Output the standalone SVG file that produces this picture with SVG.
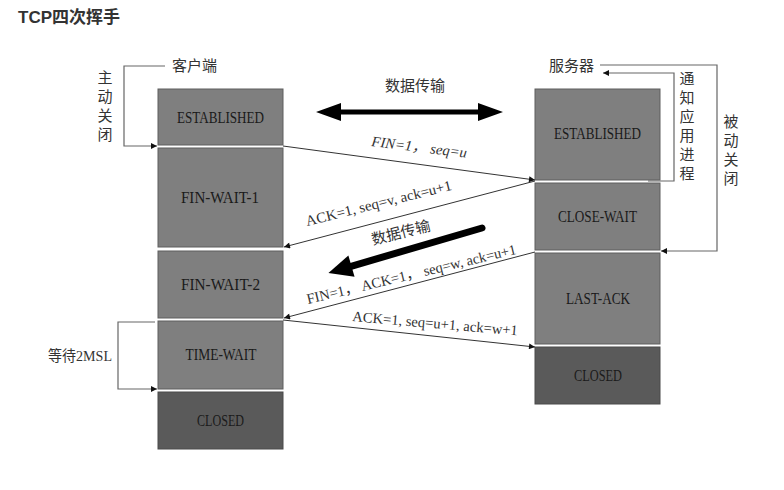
<svg xmlns="http://www.w3.org/2000/svg" width="784" height="490" viewBox="0 0 784 490">
<defs>
<style>
.box{fill:#7f7f7f;stroke:#5e5e5e;stroke-width:1}
.dark{fill:#5a5a5a;stroke:#4a4a4a;stroke-width:1}
.bl{font-family:"Liberation Serif",serif;font-size:16px;fill:#1a1a1a;text-anchor:middle}
.cjk{font-family:"Noto Sans CJK SC",sans-serif;font-size:15px;fill:#333}
.msg{font-family:"Liberation Serif","Noto Sans CJK SC",serif;font-size:14.5px;fill:#333}
.ln{fill:none;stroke:#333;stroke-width:1}
.br{fill:none;stroke:#666;stroke-width:1.2}
</style>
<marker id="ah" viewBox="0 0 10 10" refX="10" refY="5" markerWidth="7" markerHeight="6" markerUnits="userSpaceOnUse" orient="auto">
<path d="M0,0 L10,5 L0,10 z" fill="#111"/>
</marker>
</defs>
<rect width="784" height="490" fill="#fff"/>
<text x="18" y="23" font-family="Liberation Sans,'Noto Sans CJK SC',sans-serif" font-size="17" font-weight="bold" fill="#333">TCP四次挥手</text>

<g id="client-established"><rect class="box" x="158" y="89" width="125" height="56"/><text class="bl" x="220.5" y="123" textLength="87" lengthAdjust="spacingAndGlyphs">ESTABLISHED</text></g>
<g id="fin-wait-1"><rect class="box" x="158" y="148" width="125" height="99"/><text class="bl" x="220" y="203" textLength="78" lengthAdjust="spacingAndGlyphs">FIN-WAIT-1</text></g>
<g id="fin-wait-2"><rect class="box" x="158" y="251" width="125" height="67"/><text class="bl" x="220.5" y="290" textLength="79" lengthAdjust="spacingAndGlyphs">FIN-WAIT-2</text></g>
<g id="time-wait"><rect class="box" x="158" y="321" width="125" height="68"/><text class="bl" x="221" y="360" textLength="71" lengthAdjust="spacingAndGlyphs">TIME-WAIT</text></g>
<g id="client-closed"><rect class="dark" x="158" y="392" width="125" height="57"/><text class="bl" x="220.5" y="426" textLength="47" lengthAdjust="spacingAndGlyphs">CLOSED</text></g>

<g id="server-established"><rect class="box" x="535" y="89" width="125" height="91"/><text class="bl" x="597.5" y="139" textLength="87" lengthAdjust="spacingAndGlyphs">ESTABLISHED</text></g>
<g id="close-wait"><rect class="box" x="535" y="183" width="125" height="67"/><text class="bl" x="597.5" y="222" textLength="79" lengthAdjust="spacingAndGlyphs">CLOSE-WAIT</text></g>
<g id="last-ack"><rect class="box" x="535" y="253" width="125" height="91"/><text class="bl" x="598" y="304" textLength="64" lengthAdjust="spacingAndGlyphs">LAST-ACK</text></g>
<g id="server-closed"><rect class="dark" x="535" y="347" width="125" height="57"/><text class="bl" x="598" y="381" textLength="48" lengthAdjust="spacingAndGlyphs">CLOSED</text></g>

<g id="labels">
<text class="cjk" x="172" y="71">客户端</text>
<text class="cjk" x="549" y="71">服务器</text>
<text class="cjk" text-anchor="middle"><tspan x="105" y="83">主</tspan><tspan x="105" dy="19">动</tspan><tspan x="105" dy="19">关</tspan><tspan x="105" dy="19">闭</tspan></text>
<text class="cjk" text-anchor="middle"><tspan x="687" y="84">通</tspan><tspan x="687" dy="19">知</tspan><tspan x="687" dy="19">应</tspan><tspan x="687" dy="19">用</tspan><tspan x="687" dy="19">进</tspan><tspan x="687" dy="19">程</tspan></text>
<text class="cjk" text-anchor="middle"><tspan x="731" y="127">被</tspan><tspan x="731" dy="19">动</tspan><tspan x="731" dy="19">关</tspan><tspan x="731" dy="19">闭</tspan></text>
<text class="cjk" x="48" y="361" textLength="64" lengthAdjust="spacingAndGlyphs">等待<tspan font-family="Liberation Serif,serif">2MSL</tspan></text>
<text class="cjk" x="385" y="91" font-size="15.5">数据传输</text>
<text class="cjk" font-size="15.5" transform="translate(373,245) rotate(-14)">数据传输</text>
</g>

<g id="connectors">
<polyline class="br" points="165,66 124,66 124,146 157,146" marker-end="url(#ah)"/>
<polyline class="br" points="600,65 717,65 717,251 661,251" marker-end="url(#ah)"/>
<polyline class="br" points="648,181 674,181 674,73 603,73" marker-end="url(#ah)"/>
<polyline class="br" points="155,322 118,322 118,389 157,389" marker-end="url(#ah)"/>

<line class="ln" x1="283" y1="146" x2="535" y2="180" marker-end="url(#ah)"/>
<line class="ln" x1="535" y1="181" x2="284" y2="247" marker-end="url(#ah)"/>
<line class="ln" x1="535" y1="252" x2="284" y2="318" marker-end="url(#ah)"/>
<line class="ln" x1="283" y1="320" x2="535" y2="347" marker-end="url(#ah)"/>

<path d="M316,112 L341,103 L341,109.5 L478,109.5 L478,103 L503,112 L478,121 L478,114.5 L341,114.5 L341,121 z" fill="#000"/>
<g transform="translate(482,228) rotate(163.7)">
<line x1="0" y1="0" x2="140" y2="0" stroke="#000" stroke-width="7" stroke-linecap="round"/>
<path d="M136,-11 L160,0 L136,11 z" fill="#000"/>
</g>
</g>

<g id="message-labels">
<text class="msg" font-style="italic" transform="translate(371,146) rotate(7)" textLength="96" lengthAdjust="spacingAndGlyphs">FIN=1， seq=u</text>
<text class="msg" transform="translate(307,226) rotate(-14)" textLength="150" lengthAdjust="spacingAndGlyphs">ACK=1, seq=v, ack=u+1</text>
<text class="msg" transform="translate(308,304) rotate(-13.5)" textLength="215" lengthAdjust="spacingAndGlyphs">FIN=1， ACK=1， seq=w, ack=u+1</text>
<text class="msg" transform="translate(352,321) rotate(5)" textLength="166" lengthAdjust="spacingAndGlyphs">ACK=1, seq=u+1, ack=w+1</text>
</g>
</svg>
